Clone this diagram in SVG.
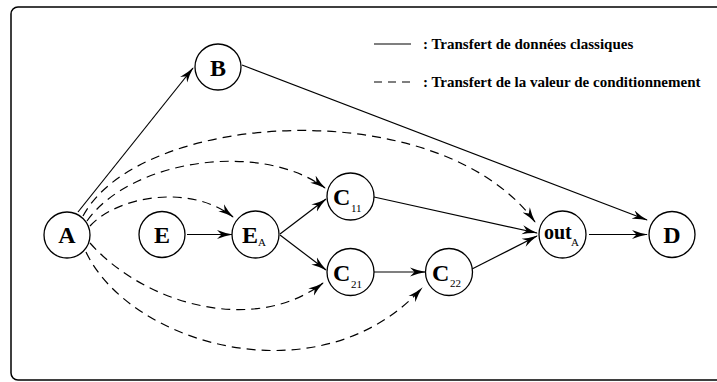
<svg xmlns="http://www.w3.org/2000/svg" width="717" height="382" viewBox="0 0 717 382">
<style>
.frame{fill:none;stroke:#000;stroke-width:1.5}
.node circle{fill:#fff;stroke:#000;stroke-width:1.3}
.lbl{font-family:"Liberation Serif","Times New Roman",serif;font-weight:bold;font-size:24px;fill:#000}
.out{font-family:"Liberation Serif","Times New Roman",serif;font-weight:bold;font-size:20px;fill:#000}
.sub{font-family:"Liberation Serif","Times New Roman",serif;font-weight:normal;font-size:11px;fill:#000}
.leg{font-family:"Liberation Serif","Times New Roman",serif;font-weight:bold;font-size:15px;fill:#000}
.solid{fill:none;stroke:#000;stroke-width:1.2;marker-end:url(#arr)}
.dash{fill:none;stroke:#000;stroke-width:1.2;stroke-dasharray:9 6;marker-end:url(#arr)}
</style>
<defs>
<marker id="arr" markerUnits="userSpaceOnUse" viewBox="0 0 16 10" markerWidth="16" markerHeight="10" refX="15" refY="5" orient="auto">
<path d="M0,0.5 Q8,3.8 16,5 Q8,6.2 0,9.5 L4.5,5 Z" fill="#000" stroke="none"/>
</marker>
</defs>
<rect class="frame" x="11" y="7" width="720" height="373" rx="7" ry="7"/>
<g id="legend">
<line x1="374" y1="44" x2="411" y2="44" stroke="#000" stroke-width="1.2"/>
<text class="leg" x="423" y="49">: Transfert de données classiques</text>
<line x1="374" y1="82" x2="411" y2="82" stroke="#000" stroke-width="1.2" stroke-dasharray="8 6"/>
<text class="leg" x="423" y="87">: Transfert de la valeur de conditionnement</text>
</g>
<g id="connectors">
<line class="solid" x1="78" y1="212" x2="193" y2="68"/>
<line class="solid" x1="242" y1="65" x2="647" y2="220"/>
<line class="solid" x1="187" y1="234.5" x2="232" y2="234.5"/>
<line class="solid" x1="280" y1="234" x2="326" y2="199"/>
<line class="solid" x1="280" y1="235" x2="326" y2="270"/>
<line class="solid" x1="374" y1="197" x2="537" y2="233"/>
<line class="solid" x1="374" y1="272" x2="425" y2="272"/>
<line class="solid" x1="472" y1="269" x2="537" y2="236"/>
<line class="solid" x1="589" y1="234.5" x2="647" y2="234.5"/>
<path class="dash" d="M90,226 C115,198 188,182 233,217"/>
<path class="dash" d="M87,221 C130,160 260,140 325,188"/>
<path class="dash" d="M83,216 C140,110 440,92 535,222"/>
<path class="dash" d="M90,243 C145,305 255,335 323,283"/>
<path class="dash" d="M86,252 C130,345 320,400 422,288"/>
</g>
<g id="node-A" class="node"><circle cx="67" cy="235" r="23"/><text class="lbl" x="67" y="243" text-anchor="middle">A</text></g>
<g id="node-B" class="node"><circle cx="218" cy="67" r="23"/><text class="lbl" x="218" y="76" text-anchor="middle">B</text></g>
<g id="node-E" class="node"><circle cx="162" cy="234.5" r="23"/><text class="lbl" x="162" y="243" text-anchor="middle">E</text></g>
<g id="node-EA" class="node"><circle cx="255.5" cy="234.5" r="23.5"/><text class="lbl" x="242" y="243">E</text><text class="sub" x="258" y="246">A</text></g>
<g id="node-C11" class="node"><circle cx="350.5" cy="196.5" r="23.5"/><text class="lbl" x="333" y="205">C</text><text class="sub" x="351" y="212">11</text></g>
<g id="node-C21" class="node"><circle cx="350.5" cy="272" r="23.5"/><text class="lbl" x="333" y="281">C</text><text class="sub" x="351" y="288">21</text></g>
<g id="node-C22" class="node"><circle cx="449" cy="272" r="23.5"/><text class="lbl" x="432" y="281">C</text><text class="sub" x="450" y="287">22</text></g>
<g id="node-outA" class="node"><circle cx="562.5" cy="234.5" r="23.5"/><text class="out" x="544" y="239">out</text><text class="sub" x="571" y="246">A</text></g>
<g id="node-D" class="node"><circle cx="672" cy="234.5" r="23"/><text class="lbl" x="672" y="243" text-anchor="middle">D</text></g>
</svg>
